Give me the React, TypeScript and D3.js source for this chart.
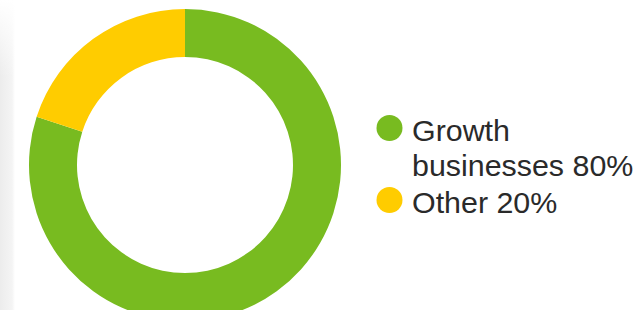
import React from "react";
import * as d3 from "d3";

const labels = ["Growth businesses", "Other"];
const values = [80, 20];
const legendLines = [["Growth", "businesses 80%"], ["Other 20%"]];
const colors = ["#78bb20", "#ffcc00"];

const width = 639;
const height = 310;
const cx = 185;
const cy = 165;
const outerR = 156;
const innerR = 108;

export default function App() {
  // sort(null) keeps the order; green starts at 12 o'clock and runs clockwise
  const pie = d3.pie<number>().sort(null).value((d) => d);
  const arcs = pie(values);
  const arc = d3.arc<d3.PieArcDatum<number>>().innerRadius(innerR).outerRadius(outerR);

  const legendY = [128, 200];
  const lineH = 35;

  return (
    <svg
      width={width}
      height={height}
      style={{ position: "absolute", left: 0, top: 0, background: "#fff" }}
      fontFamily="'Liberation Sans', Arial, Helvetica, sans-serif"
    >
      <defs>
        <linearGradient id="edge" x1="0" x2="1" y1="0" y2="0">
          <stop offset="0" stopColor="#ececec" />
          <stop offset="0.8" stopColor="#f4f4f4" />
          <stop offset="1" stopColor="#ffffff" />
        </linearGradient>
        <linearGradient id="edgeFade" x1="0" x2="0" y1="0" y2="1">
          <stop offset="0" stopColor="#fff" stopOpacity="1" />
          <stop offset="0.25" stopColor="#fff" stopOpacity="0" />
        </linearGradient>
      </defs>
      <rect x={0} y={0} width={15} height={height} fill="url(#edge)" />
      <rect x={0} y={0} width={15} height={height} fill="url(#edgeFade)" />

      <g transform={`translate(${cx},${cy})`}>
        {arcs.map((a, i) => (
          <path key={labels[i]} d={arc(a) || ""} fill={colors[i]} />
        ))}
      </g>

      <g>
        {legendLines.map((lines, i) => (
          <g key={labels[i]}>
            <circle cx={389.5} cy={legendY[i]} r={13} fill={colors[i]} />
            <text x={412} y={legendY[i] + 13} fontSize={30.4} fill="#2a2a2a">
              {lines.map((t, j) => (
                <tspan key={t} x={412} dy={j === 0 ? 0 : lineH}>
                  {t}
                </tspan>
              ))}
            </text>
          </g>
        ))}
      </g>
    </svg>
  );
}
